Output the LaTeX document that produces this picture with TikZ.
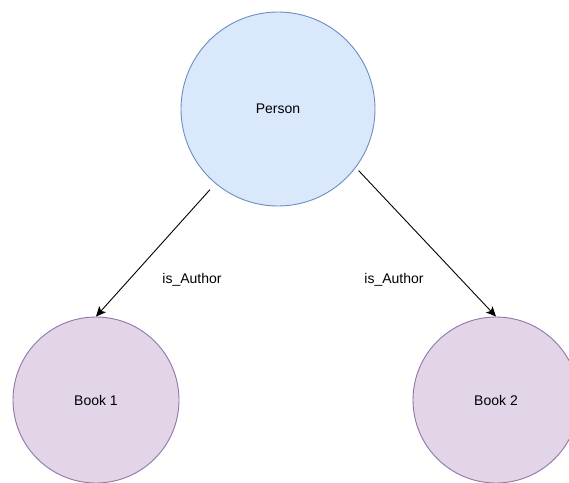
\documentclass[tikz,border=0pt]{standalone}
\usepackage{fontspec}
\setmainfont{Liberation Sans}
\usetikzlibrary{arrows.meta}
\definecolor{personfill}{HTML}{DAE8FC}
\definecolor{personline}{HTML}{6C8EBF}
\definecolor{bookfill}{HTML}{E1D5E7}
\definecolor{bookline}{HTML}{9673A6}
\tikzset{
  entity/.style={circle, inner sep=0pt, line width=0.9pt,
    font=\fontsize{14}{16}\selectfont},
  person/.style={entity, draw=personline, fill=personfill, minimum size=194pt},
  book/.style={entity, draw=bookline, fill=bookfill, minimum size=166pt},
  rel/.style={draw=black, line width=0.9pt,
    -{Stealth[length=10pt,width=9pt,inset=2.5pt]}},
  rellabel/.style={font=\fontsize{14}{16}\selectfont, inner sep=0pt}
}
\begin{document}
\begin{tikzpicture}[x=1pt,y=-1pt]
  \useasboundingbox (0,0) rectangle (569,482);
  \fill[white] (0,0) rectangle (569,482);

  \node[person] (person) at (278,109) {Person};
  \node[book] (book1) at (96,400) {Book 1};
  \node[book] (book2) at (496,400) {Book 2};

  \draw[rel, shorten <=8pt] (person.230) -- (book1.north);
  \draw[rel, shorten <=4pt] (person.323) -- (book2.north);

  \node[rellabel] (lab1) at (192,280) {is\_Author};
  \node[rellabel] (lab2) at (394,280) {is\_Author};
\end{tikzpicture}
\end{document}
